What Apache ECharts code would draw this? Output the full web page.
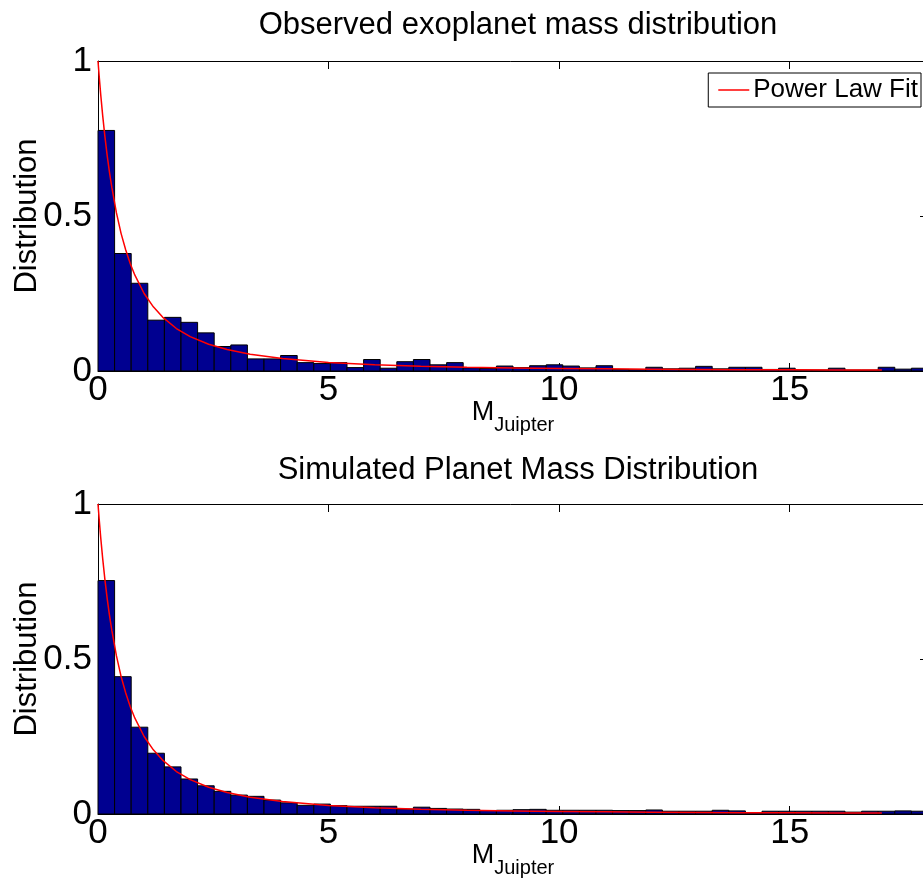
<!DOCTYPE html>
<html>
<head>
<meta charset="utf-8">
<script src="https://cdn.jsdelivr.net/npm/echarts@6/dist/echarts.min.js"></script>
<style>
  html, body { margin: 0; padding: 0; background: #fff; }
  #chart { width: 923px; height: 884px; }
</style>
</head>
<body>
<div id="chart"></div>
<script>
// ---- data ----
const binWidth = 0.36; // M_Jupiter per histogram bin (50 bins)
const observedHeights = [0.776, 0.379, 0.283, 0.164, 0.173, 0.157, 0.123, 0.079, 0.084, 0.039,
  0.039, 0.050, 0.027, 0.024, 0.027, 0.011, 0.037, 0.009, 0.030, 0.037,
  0.020, 0.027, 0.010, 0.008, 0.016, 0.011, 0.017, 0.020, 0.016, 0.010,
  0.017, 0.005, 0.004, 0.012, 0.007, 0.009, 0.015, 0.007, 0.012, 0.012,
  0.005, 0.009, 0.003, 0.003, 0.009, 0.003, 0.003, 0.012, 0.006, 0.009];
const simulatedHeights = [0.753, 0.443, 0.280, 0.196, 0.152, 0.113, 0.091, 0.073, 0.061, 0.057,
  0.045, 0.036, 0.028, 0.032, 0.027, 0.025, 0.025, 0.025, 0.016, 0.022,
  0.018, 0.016, 0.015, 0.011, 0.012, 0.014, 0.015, 0.012, 0.012, 0.012,
  0.012, 0.011, 0.011, 0.013, 0.009, 0.009, 0.009, 0.012, 0.010, 0.004,
  0.009, 0.009, 0.009, 0.009, 0.009, 0.006, 0.009, 0.009, 0.010, 0.009];
const fitX = [0, 0.03, 0.06, 0.1, 0.15, 0.2, 0.25, 0.3, 0.4, 0.5, 0.6, 0.7, 0.8, 1.0, 1.2, 1.4,
  1.7, 2.0, 2.4, 2.8, 3.3, 4, 5, 6, 7, 8, 9, 10, 11, 12, 13, 14, 15, 16, 17];
const fitY = [1, 0.943, 0.890, 0.826, 0.756, 0.694, 0.640, 0.592, 0.510, 0.444, 0.391, 0.346, 0.309,
  0.250, 0.207, 0.174, 0.137, 0.111, 0.0865, 0.0693, 0.0541, 0.040, 0.0278, 0.0204, 0.0156,
  0.0123, 0.0100, 0.0083, 0.0069, 0.0059, 0.0051, 0.0044, 0.0039, 0.0035, 0.0031];
const xTicks = [0, 5, 10, 15];
const yTicks = [0, 0.5, 1];
const titles = ['Observed exoplanet mass distribution', 'Simulated Planet Mass Distribution'];
const yName = 'Distribution';
const legendName = 'Power Law Fit';

// ---- build ----
const FONT = "'Liberation Sans', Arial, Helvetica, sans-serif";
const FS = 31;      // titles, axis names
const TFS = 35;     // tick labels
const LFS = 26;     // legend
function binData(h) { return h.map((v, i) => [i * binWidth, (i + 1) * binWidth, v]); }
function fitData() { return fitX.map((x, i) => [x, fitY[i]]); }
function renderBar(params, api) {
  const p0 = api.coord([api.value(0), 0]);
  const p1 = api.coord([api.value(1), api.value(2)]);
  return {
    type: 'rect',
    shape: { x: p0[0], y: p1[1], width: p1[0] - p0[0], height: p0[1] - p1[1] },
    style: { fill: '#000090', stroke: '#000', lineWidth: 1 }
  };
}
const gridTops = [61, 504];
const grids = gridTops.map(t => ({
  left: 98, width: 830, top: t, height: 310, containLabel: false, outerBoundsMode: 'none'
}));

const xAxes = [], yAxes = [];
gridTops.forEach((t, g) => {
  const base = {
    gridIndex: g, type: 'value', min: 0, max: 18, interval: 5,
    axisLine: { show: true, onZero: false, lineStyle: { color: '#000', width: 1 } },
    axisTick: { show: true, inside: true, length: 8, lineStyle: { color: '#000' } },
    splitLine: { show: false }
  };
  xAxes.push(Object.assign({}, base, {
    position: 'bottom',
    axisLabel: { show: true, margin: 2, color: '#000', fontSize: TFS, fontFamily: FONT,
      formatter: v => (xTicks.indexOf(v) >= 0 ? String(v) : '') },
    nameLocation: 'middle', nameGap: 28, nameMoveOverlap: false,
    name: '{m|M}{s|Juipter}',
    nameTextStyle: {
      color: '#000', fontFamily: FONT,
      rich: {
        m: { fontSize: 27, lineHeight: 27, verticalAlign: 'top', fontFamily: FONT, color: '#000' },
        s: { fontSize: 20, lineHeight: 20, verticalAlign: 'top', padding: [16, 0, 0, 0], fontFamily: FONT, color: '#000' }
      }
    }
  }));
  xAxes.push(Object.assign({}, base, { position: 'top', axisLabel: { show: false } }));
  const ybase = {
    gridIndex: g, type: 'value', min: 0, max: 1, interval: 0.5,
    axisLine: { show: true, onZero: false, lineStyle: { color: '#000', width: 1 } },
    axisTick: { show: true, inside: true, length: 8, lineStyle: { color: '#000' } },
    splitLine: { show: false }
  };
  yAxes.push(Object.assign({}, ybase, {
    position: 'left',
    axisLabel: { show: true, margin: 6, color: '#000', fontSize: TFS, fontFamily: FONT,
      formatter: v => (yTicks.indexOf(v) >= 0 ? String(v) : '') },
    name: yName, nameLocation: 'middle', nameGap: 55, nameMoveOverlap: false,
    nameTextStyle: { color: '#000', fontSize: FS, fontFamily: FONT }
  }));
  yAxes.push(Object.assign({}, ybase, { position: 'right', axisLabel: { show: false } }));
});

const option = {
  backgroundColor: '#fff',
  animation: false,
  title: titles.map((txt, i) => ({
    text: txt, left: 513, textAlign: 'center', top: i === 0 ? 5 : 450,
    textStyle: { color: '#000', fontSize: FS, fontWeight: 'normal', fontFamily: FONT }
  })),
  legend: {
    data: [{ name: legendName, icon: 'rect', itemStyle: { color: '#ff0000' } }],
    right: 2, top: 73, orient: 'vertical',
    itemWidth: 31, itemHeight: 1.5, itemGap: 0,
    padding: [4, 3, 4, 10],
    borderColor: '#000', borderWidth: 1, backgroundColor: '#fff', borderRadius: 0,
    textStyle: { color: '#000', fontSize: LFS, fontFamily: FONT, padding: [0, 0, 0, -1] }
  },
  grid: grids,
  xAxis: xAxes,
  yAxis: yAxes,
  series: [
    { type: 'custom', xAxisIndex: 0, yAxisIndex: 0, renderItem: renderBar,
      encode: { x: [0, 1], y: 2 }, data: binData(observedHeights), z: 2 },
    { type: 'line', name: legendName, xAxisIndex: 0, yAxisIndex: 0, data: fitData(),
      symbol: 'none', smooth: false, lineStyle: { color: '#ff0000', width: 1.5 }, itemStyle: { color: '#ff0000' }, z: 3 },
    { type: 'custom', xAxisIndex: 2, yAxisIndex: 2, renderItem: renderBar,
      encode: { x: [0, 1], y: 2 }, data: binData(simulatedHeights), z: 2 },
    { type: 'line', name: 'fit2', xAxisIndex: 2, yAxisIndex: 2, data: fitData(),
      symbol: 'none', smooth: false, lineStyle: { color: '#ff0000', width: 1.5 }, itemStyle: { color: '#ff0000' }, z: 3 }
  ]
};
const chart = echarts.init(document.getElementById('chart'), null, { renderer: 'canvas' });
chart.setOption(option);
</script>
</body>
</html>
